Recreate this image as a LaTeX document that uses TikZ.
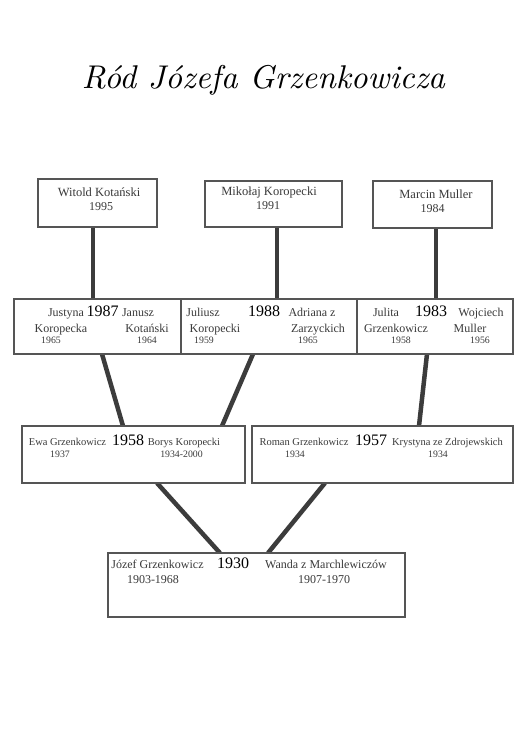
\documentclass[tikz,border=0pt]{standalone}
\usepackage{fontspec}
\usepackage{graphicx}
\newfontfamily\tnr{Liberation Serif}
\definecolor{namegray}{HTML}{3A3A3A}
\definecolor{boxgray}{HTML}{555555}
\definecolor{linkgray}{HTML}{3C3C3C}
\pgfdeclarelayer{bg}
\pgfsetlayers{bg,main}
\begin{document}
\begin{tikzpicture}[x=1pt,y=-1pt,
  fambox/.style={draw=boxgray, line width=1.6pt, fill=white, inner sep=0pt, outer sep=0pt},
  link/.style={draw=linkgray, line width=4.5pt},
  nmA/.style={font=\tnr\fontsize{12.5}{14}\selectfont, text=namegray, inner sep=0pt, anchor=base},
  nmB/.style={font=\tnr\fontsize{12}{14}\selectfont, text=namegray, inner sep=0pt, anchor=base},
  nmC/.style={font=\tnr\fontsize{10.5}{12}\selectfont, text=namegray, inner sep=0pt, anchor=base},
  yrA/.style={font=\tnr\fontsize{12}{14}\selectfont, text=namegray, inner sep=0pt, anchor=base},
  yrS/.style={font=\tnr\fontsize{9.8}{12}\selectfont, text=namegray, inner sep=0pt, anchor=base},
  big/.style={font=\tnr\fontsize{16}{18}\selectfont, text=black, inner sep=0pt, anchor=base}]
\useasboundingbox (0,0) rectangle (520,734);

% title
\node[anchor=base, inner sep=0pt] (title) at (263.5,88) {\resizebox{363pt}{!}{\itshape Ród Józefa Grzenkowicza}};

% boxes
\node[fambox, minimum width=119pt, minimum height=48pt] (w1) at (97.5,203) {};
\node[fambox, minimum width=137pt, minimum height=46pt] (w2) at (273.5,204) {};
\node[fambox, minimum width=119pt, minimum height=47pt] (w3) at (432.5,204.5) {};
\node[fambox, minimum width=167pt, minimum height=55pt] (a) at (97.5,326.5) {};
\node[fambox, minimum width=176pt, minimum height=55pt] (b) at (269,326.5) {};
\node[fambox, minimum width=156pt, minimum height=55pt] (c) at (435,326.5) {};
\node[fambox, minimum width=223pt, minimum height=57pt] (d) at (133.5,454.5) {};
\node[fambox, minimum width=261pt, minimum height=57pt] (e) at (382.5,454.5) {};
\node[fambox, minimum width=297pt, minimum height=64pt] (f) at (256.5,585) {};

% connectors
\begin{pgfonlayer}{bg}
\fill[white] (0,0) rectangle (520,734);
\draw[link] ([xshift=-4.5pt]w1.south) -- ([xshift=-4.5pt]w1.south |- a.north);
\draw[link] ([xshift=3.5pt]w2.south) -- ([xshift=3.5pt]w2.south |- b.north);
\draw[link] ([xshift=3.5pt]w3.south) -- ([xshift=3.5pt]w3.south |- c.north);
\draw[link] ([xshift=4.5pt]a.south) -- ([xshift=-10.5pt]d.north);
\draw[link] ([xshift=-16pt]b.south) -- ([xshift=88.5pt]d.north);
\draw[link] ([xshift=-8pt]c.south) -- ([xshift=36.5pt]e.north);
\draw[link] ([xshift=23.5pt]d.south) -- ([xshift=-36.5pt]f.north);
\draw[link] ([xshift=-57.5pt]e.south) -- ([xshift=11.5pt]f.north);
\end{pgfonlayer}

% row 1 texts
\node[nmA] (w1n) at (99,196) {Witold Kotański};
\node[yrA] (w1y) at (101,210) {1995};
\node[nmA] (w2n) at (269,195) {Mikołaj Koropecki};
\node[yrA] (w2y) at (268,209) {1991};
\node[nmA] (w3n) at (436,198) {Marcin Muller};
\node[yrA] (w3y) at (432.5,212) {1984};

% row 2 texts
\node[nmB] (a1) at (66,316.5) {Justyna};
\node[big] (ay) at (102.5,316.5) {1987};
\node[nmB] (a2) at (138,316.5) {Janusz};
\node[nmB] (a3) at (61,332) {Koropecka};
\node[nmB] (a4) at (147,332) {Kotański};
\node[yrS] (a5) at (51,343.5) {1965};
\node[yrS] (a6) at (147,343.5) {1964};

\node[nmB] (b1) at (203,316.5) {Juliusz};
\node[big] (by) at (264,316.5) {1988};
\node[nmB] (b2) at (312,316.5) {Adriana z};
\node[nmB] (b3) at (215,332) {Koropecki};
\node[nmB] (b4) at (318,332) {Zarzyckich};
\node[yrS] (b5) at (204,343.5) {1959};
\node[yrS] (b6) at (308,343.5) {1965};

\node[nmB] (c1) at (386,316.5) {Julita};
\node[big] (cy) at (431,316.5) {1983};
\node[nmB] (c2) at (481,316.5) {Wojciech};
\node[nmB] (c3) at (396,332) {Grzenkowicz};
\node[nmB] (c4) at (470,332) {Muller};
\node[yrS] (c5) at (401,343.5) {1958};
\node[yrS] (c6) at (480,343.5) {1956};

% row 3 texts
\node[nmC] (d1) at (67.5,445) {Ewa Grzenkowicz};
\node[big] (dy) at (128,445) {1958};
\node[nmC] (d2) at (184,445) {Borys Koropecki};
\node[yrS] (d3) at (60,457.5) {1937};
\node[yrS] (d4) at (181.5,457.5) {1934-2000};

\node[nmC] (e1) at (304,445) {Roman Grzenkowicz};
\node[big] (ey) at (371,445) {1957};
\node[nmC] (e2) at (447.5,445) {Krystyna ze Zdrojewskich};
\node[yrS] (e3) at (295,457.5) {1934};
\node[yrS] (e4) at (438,457.5) {1934};

% row 4 texts
\node[nmB] (f1) at (157.5,568.5) {Józef Grzenkowicz};
\node[big] (fy) at (233,568.5) {1930};
\node[nmB] (f2) at (326,568.5) {Wanda z Marchlewiczów};
\node[yrA] (f3) at (153,583) {1903-1968};
\node[yrA] (f4) at (324,583) {1907-1970};
\end{tikzpicture}
\end{document}
